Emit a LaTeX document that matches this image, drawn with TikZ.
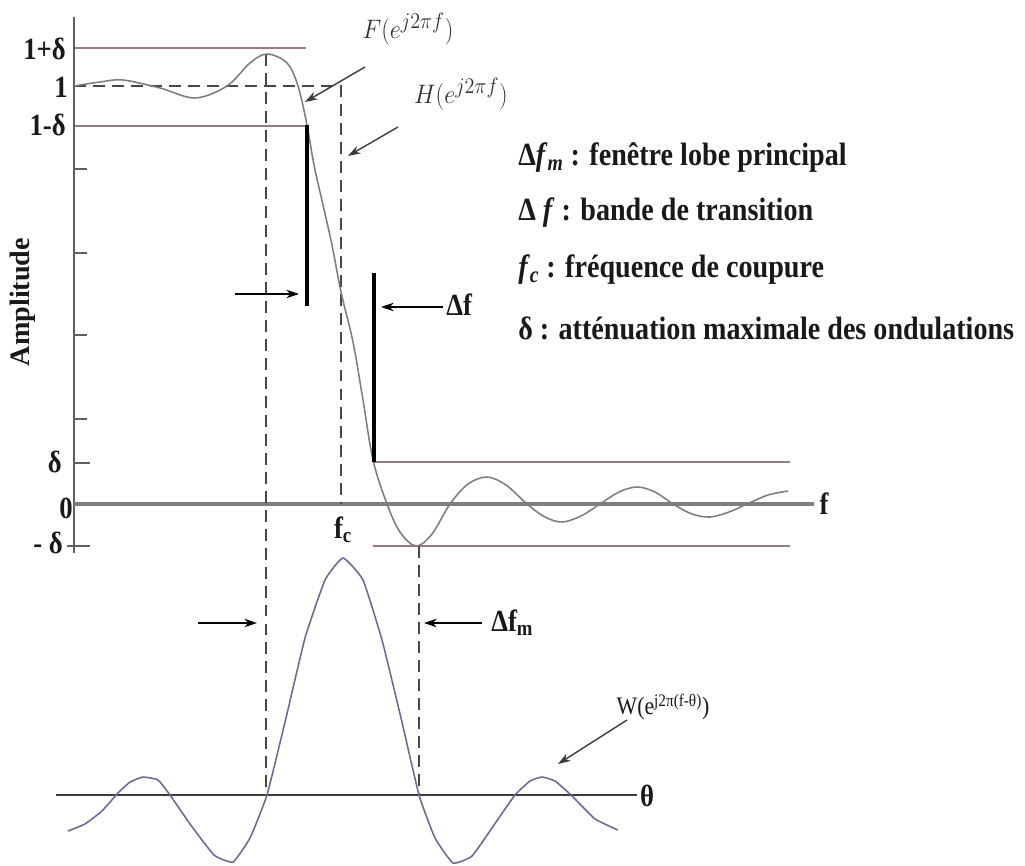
\documentclass[tikz,border=0pt]{standalone}
\usepackage{fontspec}
\setmainfont{Liberation Serif}
\usetikzlibrary{arrows.meta}
\definecolor{refc}{RGB}{150,125,125}
\definecolor{curvec}{RGB}{125,125,125}
\definecolor{wcol}{RGB}{105,105,145}
\definecolor{axisc}{RGB}{95,95,95}
\definecolor{inkc}{RGB}{25,25,25}
\newcommand\labfont{\fontsize{19}{22}\selectfont\bfseries}
\newcommand\legfont{\fontsize{20}{22}\selectfont\bfseries}
\newcommand\vstretch[1]{\scalebox{1}[1.15]{#1}}
\begin{document}
\begin{tikzpicture}[x=0.025cm,y=-0.025cm,
  refline/.style={draw=refc,line width=0.9pt},
  axisline/.style={draw=axisc,line width=1.3pt},
  faxis/.style={draw=axisc!80,line width=2.2pt},
  tick/.style={draw=axisc,line width=0.9pt},
  dashline/.style={draw=inkc!80,line width=1.1pt,dash pattern=on 8.5pt off 5pt},
  thickbar/.style={draw=black,line width=2.8pt},
  pointer/.style={draw=black,line width=1pt,-{Stealth[length=9pt,width=6pt]}},
  graypointer/.style={draw=inkc!85,line width=1pt,-{Stealth[length=9pt,width=6pt]}},
  lab/.style={inner sep=0pt,text=inkc,font=\labfont},
  leg/.style={inner sep=0pt,anchor=west,text=inkc,font=\legfont},
  mathlab/.style={inner sep=0pt,text=inkc!90,font=\fontsize{19}{22}\selectfont}]
\useasboundingbox (0,0) rectangle (1025,866);
\fill[white] (0,0) rectangle (1025,866);

% ---- named coordinates
\coordinate (yTop) at (74,17);
\coordinate (yBot) at (74,553);
\coordinate (fL) at (74,504);
\coordinate (fR) at (814,504);
\coordinate (tL) at (56,795);
\coordinate (tR) at (637,795);

% reference lines
\coordinate (a1) at (74,48);   \coordinate (a2) at (306,48);
\coordinate (b1) at (74,126);  \coordinate (b2) at (306,126);
\coordinate (c1) at (373,462); \coordinate (c2) at (790,462);
\coordinate (d1) at (373,546); \coordinate (d2) at (790,546);
\draw[refline] (a1) -- (a2);
\draw[refline] (b1) -- (b2);
\draw[refline] (c1) -- (c2);
\draw[refline] (d1) -- (d2);

% axes
\draw[axisline] (yTop) -- (yBot);
\draw[faxis] (fL) -- (fR);
\draw[draw=inkc!85,line width=1.4pt] (tL) -- (tR);

% ticks
\foreach \yy in {169,253,335,419}{\draw[tick] (74,\yy) -- (87,\yy);}
\coordinate (tk1) at (74,463); \coordinate (tk2) at (90,463);
\draw[tick] (tk1) -- (tk2);
\coordinate (tk3) at (67,546); \coordinate (tk4) at (90,546);
\draw[tick] (tk3) -- (tk4);

% ideal filter H (dashed)
\coordinate (h0) at (74,86); \coordinate (h1) at (341,86); \coordinate (h2) at (341,504);
\draw[dashline] (h0) -- (h1) -- (h2);
% main lobe dashed verticals
\coordinate (v1a) at (266,54); \coordinate (v1b) at (266,795);
\coordinate (v2a) at (419,546); \coordinate (v2b) at (419,795);
\draw[dashline] (v1a) -- (v1b);
\draw[dashline] (v2a) -- (v2b);

% F curve
\draw[curvec,line width=1.1pt] plot[smooth,tension=0.55] coordinates {
 (74,86) (100,82) (123,80) (160,88) (195,98) (227,86) (250,63) (267,54)
 (287,63) (298,86) (307,125) (314,165) (323,205) (332,245) (341,292) (353,342)
 (363,400) (373,460) (387,504) (400,532) (416,546) (432,534) (450,504)
 (468,484) (487,477) (506,485) (527,504) (545,517) (562,522) (581,516)
 (600,504) (619,492) (637,487) (655,492) (673,504) (692,514) (710,517)
 (729,512) (747,504) (768,495) (788,491)};

% W curve
\draw[wcol,line width=1.1pt] plot[smooth,tension=0.25] coordinates {
 (68,831) (85,824) (102,811) (118,793) (130,782) (143,777) (158,780)
 (170,795) (190,824) (214,855) (233,862) (250,838) (267,795) (286,718)
 (305,638) (325,580) (343,558) (363,580) (382,640) (401,718) (419,795)
 (435,838) (453,863) (472,856) (494,825) (515,795) (530,781) (542,777)
 (555,781) (571,795) (595,819) (618,830)};

% thick bars
\coordinate (tb1a) at (307,125); \coordinate (tb1b) at (307,306);
\coordinate (tb2a) at (374,273); \coordinate (tb2b) at (374,462);
\draw[thickbar] (tb1a) -- (tb1b);
\draw[thickbar] (tb2a) -- (tb2b);

% axis labels
\node[lab,anchor=east] (l1p) at (66,49) {\vstretch{1+δ}};
\node[lab,anchor=east] (l1) at (68,87) {\vstretch{1}};
\node[lab,anchor=east] (l1m) at (66,125) {\vstretch{1-δ}};
\node[lab,anchor=east] (ld) at (62,462) {\vstretch{δ}};
\node[lab,anchor=east] (l0) at (73,508) {\vstretch{0}};
\node[lab,anchor=east] (lmd) at (63,543) {\vstretch{- δ}};
\node[lab,rotate=90] (amp) at (23,302) {\fontsize{20}{22}\selectfont\bfseries Amplitude};
\node[lab] (fcl) at (343,530) {\vstretch{f\textsubscript{c}}};
\node[lab] (flab) at (824,504) {\vstretch{f}};
\node[lab] (thl) at (647,796) {\vstretch{θ}};

% F and H labels with pointers
\node[mathlab] (Flab) at (408,29) {\scalebox{1.0}[1.1]{$F\Bigl(e^{j2\pi f}\Bigr)$}};
\node[mathlab] (Hlab) at (461,94) {\scalebox{1.0}[1.1]{$H\Bigl(e^{j2\pi f}\Bigr)$}};
\coordinate (Fs) at (365,67); \coordinate (Fe) at (305,102);
\coordinate (Hs) at (398,127); \coordinate (He) at (348,156);
\draw[graypointer] (Fs) -- (Fe);
\draw[graypointer] (Hs) -- (He);

% Delta f arrows
\coordinate (dfa) at (235,294); \coordinate (dfb) at (299,294);
\coordinate (dfc) at (443,307); \coordinate (dfd) at (381,307);
\draw[pointer] (dfa) -- (dfb);
\draw[pointer] (dfc) -- (dfd);
\node[lab,anchor=west] (dfl) at (446,305) {\vstretch{Δf}};

% Delta f_m arrows
\coordinate (dma) at (198,623); \coordinate (dmb) at (257,623);
\coordinate (dmc) at (482,623); \coordinate (dmd) at (424,623);
\draw[pointer] (dma) -- (dmb);
\draw[pointer] (dmc) -- (dmd);
\node[lab,anchor=west] (dml) at (491,623) {\vstretch{Δf\textsubscript{m}}};

% W label
\node[inner sep=0pt,text=inkc] (Wlab) at (663,707) {\fontsize{15.5}{18}\selectfont\vstretch{W(e\textsuperscript{j2π(f-θ)})}};
\coordinate (Ws) at (627,720); \coordinate (We) at (558,764);
\draw[graypointer] (Ws) -- (We);

% legend
\node[leg] (lg1) at (518,158) {\vstretch{Δ\textit{f}\textsubscript{\textit{m}} : fenêtre lobe principal}};
\node[leg] (lg2) at (518,213) {\vstretch{Δ \textit{f} : bande de transition}};
\node[leg] (lg3) at (518,270) {\vstretch{\textit{f}\textsubscript{\textit{c}} : fréquence de coupure}};
\node[leg] (lg4) at (518,328) {\vstretch{δ : atténuation maximale des ondulations}};
\end{tikzpicture}
\end{document}
